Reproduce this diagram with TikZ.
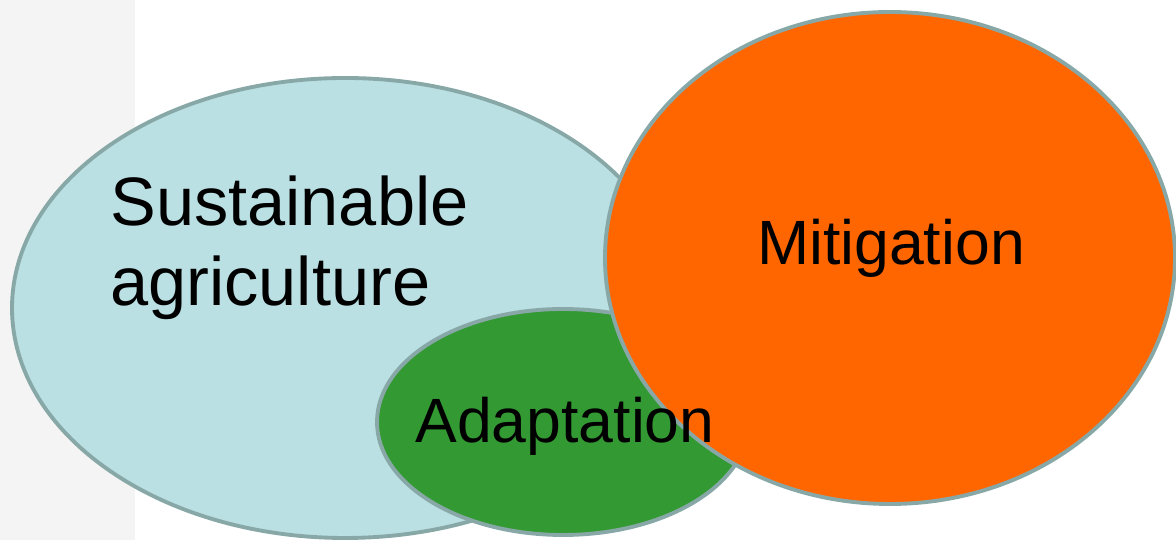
\documentclass[tikz,border=0pt]{standalone}
\usepackage{fontspec}
\setmainfont{Liberation Sans}
\usetikzlibrary{positioning}

\definecolor{agriblue}{HTML}{BAE0E3}
\definecolor{adaptgreen}{HTML}{339933}
\definecolor{mitorange}{HTML}{FF6600}
\definecolor{rimgray}{HTML}{88A8A8}
\definecolor{stripgray}{HTML}{F4F4F4}

\begin{document}
\begin{tikzpicture}[
  field/.style ={draw=rimgray, line width=2.2pt, fill=#1},
  label/.style ={text=black, inner sep=0pt, font=\fontsize{35.6}{42}\selectfont}]

  \useasboundingbox (0,0) rectangle (23.52,10.8);
  % faint strip on the left edge
  \fill[stripgray] (0,0) rectangle (2.7,10.8);

  % the three sets, back to front
  \path[field=agriblue]   (6.9,4.64)  ellipse [x radius=6.66, y radius=4.6];
  \path[field=adaptgreen] (11.26,2.36) ellipse [x radius=3.72, y radius=2.26];
  \path[field=mitorange]  (17.8,5.64) ellipse [x radius=5.7, y radius=4.92];

  % labels
  \node[label, anchor=north west, align=left, font=\fontsize{39}{46}\selectfont] (agri) at (2.2,7.3)
    {Sustainable\\agriculture};
  \node[label, anchor=base] (mitig) at (17.82,5.5) {Mitigation};
  \node[label, anchor=base] (adapt) at (11.3,1.94) {Adaptation};
\end{tikzpicture}
\end{document}
